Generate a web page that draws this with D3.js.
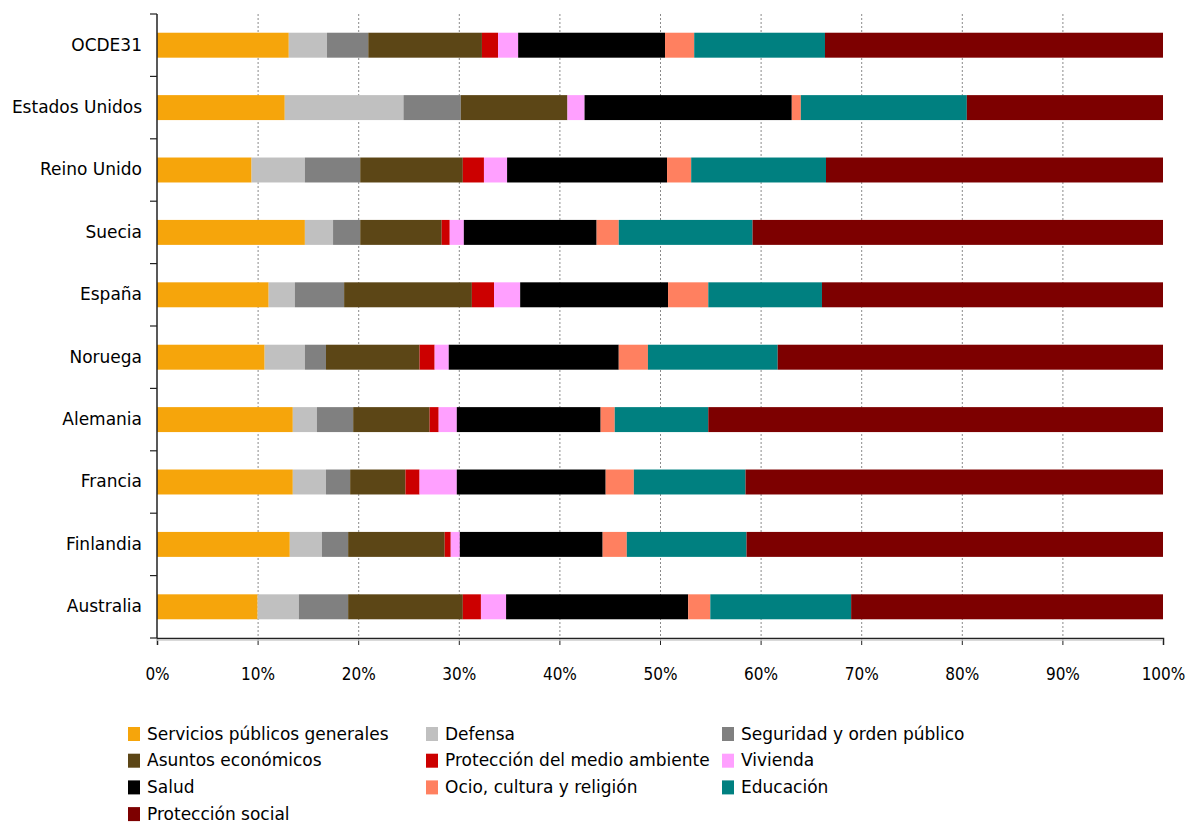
<!DOCTYPE html>
<html><head><meta charset="utf-8">
<script src="https://cdn.jsdelivr.net/npm/d3@7"></script>
<style>
body{margin:0;background:#fff;}
text{font-family:"DejaVu Sans",sans-serif;}
.cond{font-family:"DejaVu Sans Condensed","DejaVu Sans",sans-serif;font-stretch:condensed;}
</style></head>
<body><svg id="c" width="1188" height="823"></svg>
<script>
const countries = ["OCDE31","Estados Unidos","Reino Unido","Suecia","España","Noruega","Alemania","Francia","Finlandia","Australia"];
const series = ["Servicios públicos generales","Defensa","Seguridad y orden público","Asuntos económicos","Protección del medio ambiente","Vivienda","Salud","Ocio, cultura y religión","Educación","Protección social"];
const colors = ["#F6A50B","#C0C0C0","#808080","#5C4616","#CC0000","#FFA0FF","#000000","#FF8060","#008080","#7D0000"];
// shares (%) per country, in series order
const OCDE31 =        [13.1, 3.8, 4.1, 11.3, 1.6, 2.0, 14.6, 2.9, 13.0, 33.6];
const EstadosUnidos = [12.7,11.8, 5.7, 10.6, 0.0, 1.7, 20.6, 0.9, 16.5, 19.5];
const ReinoUnido =    [ 9.4, 5.3, 5.5, 10.2, 2.1, 2.3, 15.9, 2.4, 13.4, 33.5];
const Suecia =        [14.7, 2.8, 2.7,  8.1, 0.8, 1.4, 13.2, 2.2, 13.3, 40.8];
const Espana =        [11.1, 2.6, 4.9, 12.7, 2.2, 2.6, 14.7, 4.0, 11.3, 33.9];
const Noruega =       [10.7, 4.0, 2.1,  9.3, 1.5, 1.4, 16.9, 2.9, 12.9, 38.3];
const Alemania =      [13.5, 2.4, 3.6,  7.6, 0.9, 1.8, 14.3, 1.4,  9.3, 45.2];
const Francia =       [13.5, 3.3, 2.4,  5.5, 1.4, 3.7, 14.8, 2.8, 11.1, 41.5];
const Finlandia =     [13.2, 3.2, 2.6,  9.6, 0.6, 0.9, 14.2, 2.4, 11.9, 41.4];
const Australia =     [10.0, 4.1, 4.9, 11.4, 1.8, 2.5, 18.1, 2.2, 14.0, 31.0];
const values = [OCDE31,EstadosUnidos,ReinoUnido,Suecia,Espana,Noruega,Alemania,Francia,Finlandia,Australia];
const xTicks = [0,10,20,30,40,50,60,70,80,90,100];

const svg = d3.select("#c");
const m = {left:157, right:1163, top:14, bottom:638};
const x = d3.scaleLinear().domain([0,100]).range([m.left,m.right]);
const y = d3.scaleBand().domain(countries).range([m.top,m.bottom]).paddingInner(0.6).paddingOuter(0.3);

// gridlines
svg.append("g").selectAll("line").data(xTicks.filter(t=>t>0&&t<100)).join("line")
  .attr("x1",d=>x(d)+0.5).attr("x2",d=>x(d)+0.5).attr("y1",m.top).attr("y2",m.bottom)
  .attr("stroke","#8a8a8a").attr("stroke-width",1).attr("stroke-dasharray","2,2");

// stacked bars
const rows = countries.map((c,i)=>{const o={country:c}; series.forEach((s,j)=>o[s]=values[i][j]); return o;});
const stack = d3.stack().keys(series)(rows);
svg.append("g").selectAll("g").data(stack).join("g")
  .attr("fill",(d,i)=>colors[i])
  .selectAll("rect").data(d=>d).join("rect")
  .attr("x",d=>x(d[0])).attr("width",d=>Math.max(0,x(d[1])-x(d[0])))
  .attr("y",d=>y(d.data.country)).attr("height",y.bandwidth());

// x axis
const xa = svg.append("g").attr("transform",`translate(0,${m.bottom})`)
  .call(d3.axisBottom(x).tickValues(xTicks).tickFormat(d=>d+"%").tickSize(7).tickPadding(23));
xa.select(".domain").attr("stroke","#222").attr("stroke-width",1.5);
xa.selectAll(".tick line").attr("stroke","#222");
xa.selectAll("text").attr("class","cond").attr("font-size",17).attr("fill","#000");
svg.append("line").attr("x1",m.left).attr("x2",m.right).attr("y1",m.bottom+2).attr("y2",m.bottom+2).attr("stroke","#ccc").attr("stroke-width",1.5);

// y axis
const ya = svg.append("g").attr("transform",`translate(${m.left},0)`)
  .call(d3.axisLeft(y).tickSize(0).tickPadding(15));
ya.select(".domain").attr("stroke","#222").attr("stroke-width",1.5).attr("d",`M0,${m.top}V${m.bottom}`);
ya.selectAll("text").attr("font-size",17).attr("fill","#000");
svg.append("g").selectAll("line").data(d3.range(countries.length+1)).join("line")
  .attr("x1",m.left-7).attr("x2",m.left).attr("y1",i=>m.top+i*(m.bottom-m.top)/countries.length).attr("y2",i=>m.top+i*(m.bottom-m.top)/countries.length)
  .attr("stroke","#222").attr("stroke-width",1.2);

// legend
const colX = [128,426,722];
const lg = svg.append("g");
series.forEach((s,i)=>{
  const col = i%3, row = Math.floor(i/3);
  const g = lg.append("g").attr("transform",`translate(${colX[col]},${734+row*26.7})`);
  g.append("rect").attr("x",0).attr("y",-7).attr("width",12).attr("height",14).attr("fill",colors[i]);
  g.append("text").attr("x",19).attr("y",0).attr("dy","0.34em").attr("font-size",17).text(s);
});
</script></body></html>
